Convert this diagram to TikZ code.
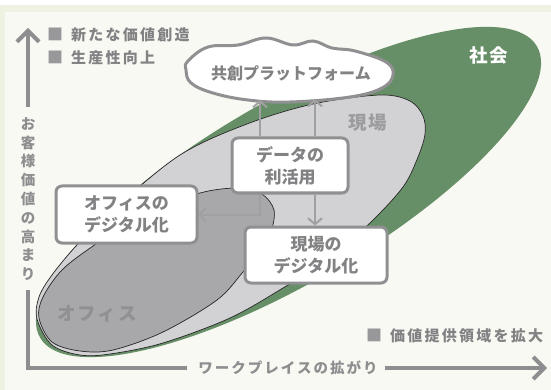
\documentclass[tikz,border=0pt]{standalone}
\usepackage{fontspec}
\setmainfont{Noto Sans CJK JP}
\usetikzlibrary{arrows.meta}
\definecolor{bandgreen}{HTML}{EDF2E2}
\definecolor{panel}{HTML}{F7F9F2}
\definecolor{society}{HTML}{678F67}
\definecolor{field}{HTML}{D2D2D5}
\definecolor{officegray}{HTML}{A8A8AB}
\definecolor{axisgray}{HTML}{8E8E90}
\definecolor{txtgray}{HTML}{828284}
\definecolor{boxgray}{HTML}{909092}
\definecolor{linegray}{HTML}{A0A0A2}
\definecolor{squaregray}{HTML}{98989A}
\definecolor{fieldtxt}{HTML}{9C9C9E}
\definecolor{officetxt}{HTML}{909092}
\newcommand{\legsq}{{\fontsize{16}{16}\selectfont\textcolor{squaregray}{■}}\hspace{8pt}}
\begin{document}
\begin{tikzpicture}[x=1pt,y=-1pt,
  axisline/.style={draw=axisgray, line width=4pt},
  axisarrow/.style={axisline, -{Straight Barb[length=11pt,width=22pt]}},
  arr/.style={draw=linegray, line width=2pt, -{Straight Barb[length=6pt,width=14pt]}},
  outline/.style={draw=black!85, line width=0.7pt},
  box/.style={draw=boxgray, line width=3pt, fill=white, rounded corners=6pt,
    align=center, inner sep=0pt, text=txtgray,
    font=\fontsize{17}{22}\selectfont\bfseries},
  legend/.style={anchor=west, inner sep=0pt, text=txtgray,
    font=\fontsize{15}{17}\selectfont\bfseries\addfontfeatures{LetterSpace=15}},
  axislabel/.style={inner sep=0pt, text=axisgray,
    font=\fontsize{14.5}{16}\selectfont\bfseries\addfontfeatures{LetterSpace=14}},
  arealabel/.style={inner sep=0pt, font=\fontsize{18.5}{20}\selectfont\bfseries\addfontfeatures{LetterSpace=10}}
]
\useasboundingbox (0,0) rectangle (551,390);
% background
\fill[white] (0,0) rectangle (551,390);
\fill[bandgreen] (0,5) rectangle (551,390);
\fill[panel] (5,12) rectangle (551,390);

% nested areas
\fill[society] (288.5,192) ellipse[x radius=288pt, y radius=90pt, rotate=30.4];
\filldraw[fill=field, outline]
  plot[smooth cycle, tension=0.55] coordinates {
  (37,319) (39,297) (52,275) (77,245) (115,208) (180,155) (247,124) (313,104)
  (380,95) (410,101) (423,116) (425,134) (418,157) (403,187) (370,223)
  (330,258) (283,288) (230,318) (163,343) (110,354) (80,355) (52,345)};
\filldraw[fill=officegray, outline]
  plot[smooth cycle, tension=0.55] coordinates {
  (39,318) (43,297) (62,270) (93,246) (140,215) (200,193) (240,188) (262,194)
  (274,210) (271,232) (260,252) (243,272) (217,300) (163,332) (113,350)
  (80,351) (52,342)};

\node[arealabel, text=white] (shakai) at (489,55) {社会};
\node[arealabel, text=fieldtxt] (genbalbl) at (368,123) {現場};
\node[arealabel, text=officetxt] (officelbl) at (97,314) {オフィス};

% cloud
\filldraw[fill=white, draw=boxgray, line width=3pt]
  plot[smooth cycle, tension=0.65] coordinates {
  (188,61) (208,47) (238,45) (266,38) (293,45) (313,41) (332,48) (355,51)
  (386,62) (393,75) (382,88) (350,97) (290,102) (248,100) (213,93) (191,83) (186,70)};
\node[inner sep=0pt, text=txtgray, font=\fontsize{16}{18}\selectfont\bfseries] (cloud) at (291,73) {共創プラットフォーム};
\coordinate (cl1) at (260,100);
\coordinate (cl2) at (315,99);

% boxes
\node[box, minimum width=116pt, minimum height=55pt] (data) at (290,165.5) {データの\\利活用};
\node[box, minimum width=141pt, minimum height=57pt] (office) at (126.5,214.5) {オフィスの\\デジタル化};
\node[box, minimum width=142pt, minimum height=56pt] (genba) at (316,255) {現場の\\デジタル化};

% connectors
\draw[arr] (data.north -| cl1) -- (cl1);
\draw[arr] (data.north -| cl2) -- (cl2);
\draw[arr] (data.south -| cl1) |- (office.east);
\draw[arr] (data.south -| cl2) -- (genba.north -| cl2);

% legends
\node[legend] (leg1) at (47,35) {\legsq 新たな価値創造};
\node[legend] (leg2) at (47,58) {\legsq 生産性向上};
\node[legend] (leg3) at (366,336) {\legsq 価値提供領域を拡大};

% axes
\coordinate (ytop) at (28,28);
\coordinate (yup) at (28,107);
\coordinate (ylow) at (28,290);
\coordinate (corner) at (28,368);
\coordinate (xleft) at (187,368);
\coordinate (xstart) at (385,368);
\coordinate (xtip) at (547,368);
\draw[axisarrow] (yup) -- (ytop);
\node[inner sep=0pt, text=axisgray, align=center,
  font=\fontsize{14.5}{18.8}\selectfont\bfseries] (ylabel) at (28,199)
  {お\\客\\様\\価\\値\\の\\高\\ま\\り};
\draw[axisline, line cap=butt] (ylow) -- (corner) -- (xleft);
\node[axislabel] (xlabel) at (288,368) {ワークプレイスの拡がり};
\draw[axisarrow] (xstart) -- (xtip);
\end{tikzpicture}
\end{document}
